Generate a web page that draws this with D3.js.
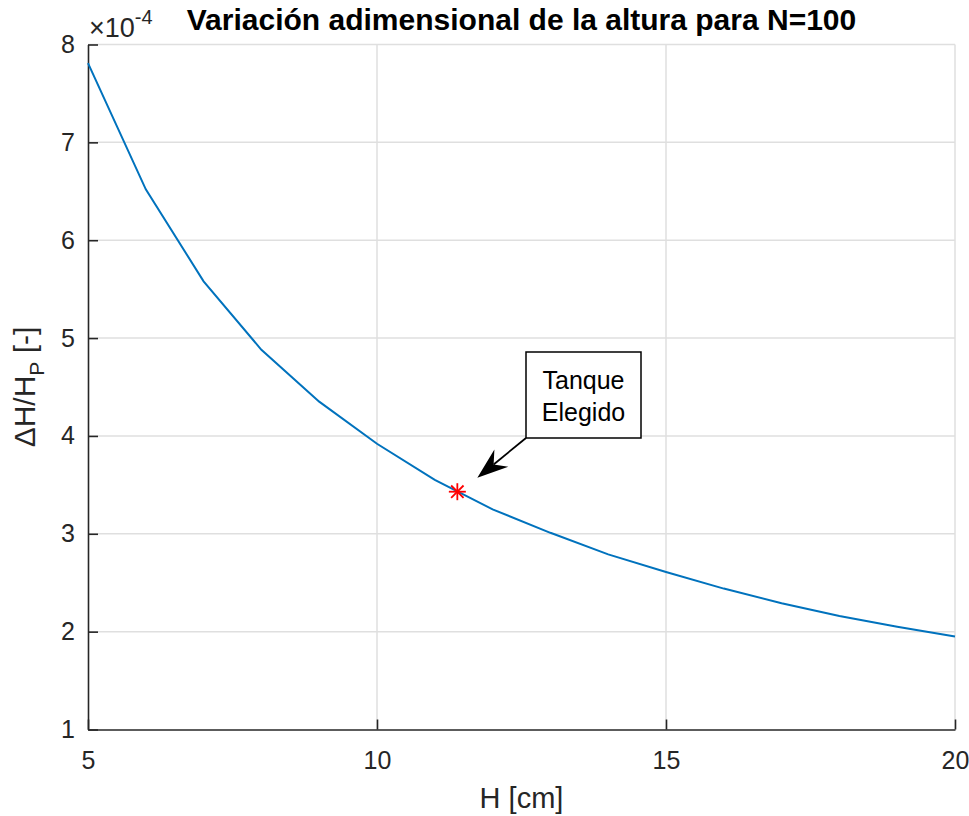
<!DOCTYPE html>
<html>
<head>
<meta charset="utf-8">
<script src="https://cdn.jsdelivr.net/npm/d3@7"></script>
<style>
  html, body { margin: 0; padding: 0; background: #fff; }
  svg text { font-family: "Liberation Sans", Arial, Helvetica, sans-serif; fill: #262626; }
</style>
</head>
<body>
<svg id="chart" width="969" height="816"></svg>
<script>
// Tank height H [cm] and the dimensionless height variation ΔH/H_P (×10^-4)
const heightsCm = [5, 6, 7, 8, 9, 10, 11, 12, 13, 14, 15, 16, 17, 18, 19, 20];
const deltaRatio = [7.81, 6.52, 5.58, 4.88, 4.35, 3.92, 3.55, 3.25, 3.01, 2.79, 2.61, 2.44, 2.29, 2.16, 2.05, 1.95];

// Selected tank
const chosenH = [11.39];
const chosenRatio = [3.43];

const xTicks = [5, 10, 15, 20];
const yTicks = [1, 2, 3, 4, 5, 6, 7, 8];

const svg = d3.select("#chart");
const margin = { left: 88, right: 14, top: 44.5, bottom: 86.5 };
const W = 969, H = 816;

const x = d3.scaleLinear().domain([5, 20]).range([margin.left, W - margin.right]);
const y = d3.scaleLinear().domain([1, 8]).range([H - margin.bottom, margin.top]);

const axisColor = "#262626";
const gridColor = "#dfdfdf";

// grid
const grid = svg.append("g");
grid.selectAll("line.gx").data(xTicks.slice(1)).join("line")
  .attr("x1", d => x(d)).attr("x2", d => x(d))
  .attr("y1", y(1)).attr("y2", y(8))
  .attr("stroke", gridColor).attr("stroke-width", 1.5);
grid.selectAll("line.gy").data(yTicks.slice(1)).join("line")
  .attr("x1", x(5)).attr("x2", x(20))
  .attr("y1", d => y(d)).attr("y2", d => y(d))
  .attr("stroke", gridColor).attr("stroke-width", 1.5);

// axes (ticks pointing inward)
const xAxis = svg.append("g")
  .attr("transform", `translate(0,${y(1)})`)
  .call(d3.axisBottom(x).tickValues(xTicks).tickFormat(d3.format("d"))
    .tickSizeInner(-10).tickSizeOuter(0).tickPadding(22));
const yAxis = svg.append("g")
  .attr("transform", `translate(${x(5)},0)`)
  .call(d3.axisLeft(y).tickValues(yTicks).tickFormat(d3.format("d"))
    .tickSizeInner(-10).tickSizeOuter(0).tickPadding(13));

[xAxis, yAxis].forEach(a => {
  a.attr("font-size", 25).attr("font-family", '"Liberation Sans", Arial, sans-serif');
  a.select(".domain").attr("stroke", axisColor).attr("stroke-width", 1.6);
  a.selectAll(".tick line").attr("stroke", axisColor).attr("stroke-width", 1.6);
  a.selectAll(".tick text").attr("fill", axisColor);
});

// exponent marker
const expo = svg.append("text").attr("x", 89).attr("y", 37).attr("font-size", 27);
expo.append("tspan").text("×10");
expo.append("tspan").attr("dy", -13).attr("font-size", 20).text("-4");

// curve
const line = d3.line().x((d, i) => x(heightsCm[i])).y(d => y(d));
svg.append("path")
  .datum(deltaRatio)
  .attr("d", line)
  .attr("fill", "none")
  .attr("stroke", "#0072BD")
  .attr("stroke-width", 2);

// selected point, asterisk marker
const star = svg.append("g")
  .attr("transform", `translate(${x(chosenH[0])},${y(chosenRatio[0])})`)
  .attr("stroke", "#ff0000").attr("stroke-width", 1.8);
const r = 8.5, rd = 6.2;
star.append("line").attr("x1", -r).attr("x2", r).attr("y1", 0).attr("y2", 0);
star.append("line").attr("x1", 0).attr("x2", 0).attr("y1", -r).attr("y2", r);
star.append("line").attr("x1", -rd).attr("x2", rd).attr("y1", -rd).attr("y2", rd);
star.append("line").attr("x1", -rd).attr("x2", rd).attr("y1", rd).attr("y2", -rd);

// annotation box
const box = { x: 526, y: 352, w: 115, h: 86 };
svg.append("rect")
  .attr("x", box.x).attr("y", box.y).attr("width", box.w).attr("height", box.h)
  .attr("fill", "#fff").attr("stroke", "#000").attr("stroke-width", 1.5);
const note = svg.append("text").attr("text-anchor", "middle").attr("font-size", 25)
  .style("fill", "#000");
note.append("tspan").attr("x", box.x + box.w / 2).attr("y", box.y + 37).text("Tanque");
note.append("tspan").attr("x", box.x + box.w / 2).attr("y", box.y + 69).text("Elegido");

// arrow from box corner toward the selected point
const start = [box.x, box.y + box.h];
const tip = [x(chosenH[0]) + 20, y(chosenRatio[0]) - 14];
const dx = tip[0] - start[0], dy = tip[1] - start[1];
const len = Math.hypot(dx, dy);
const ux = dx / len, uy = dy / len, px = -uy, py = ux;
const headLen = 31, notch = 21, halfW = 11;
const wing1 = [tip[0] - headLen * ux + halfW * px, tip[1] - headLen * uy + halfW * py];
const wing2 = [tip[0] - headLen * ux - halfW * px, tip[1] - headLen * uy - halfW * py];
const back = [tip[0] - notch * ux, tip[1] - notch * uy];
svg.append("line")
  .attr("x1", start[0]).attr("y1", start[1]).attr("x2", back[0]).attr("y2", back[1])
  .attr("stroke", "#000").attr("stroke-width", 1.8);
svg.append("path")
  .attr("d", `M${tip}L${wing1}L${back}L${wing2}Z`)
  .attr("fill", "#000");

// title
svg.append("text")
  .attr("x", (x(5) + x(20)) / 2).attr("y", 30)
  .attr("text-anchor", "middle").attr("font-size", 30).attr("font-weight", "bold")
  .style("fill", "#000")
  .text("Variación adimensional de la altura para N=100");

// x label
svg.append("text")
  .attr("x", (x(5) + x(20)) / 2).attr("y", 808)
  .attr("text-anchor", "middle").attr("font-size", 29)
  .text("H [cm]");

// y label
const yl = svg.append("text")
  .attr("transform", `translate(35,${(y(1) + y(8)) / 2}) rotate(-90)`)
  .attr("text-anchor", "middle").attr("font-size", 30);
yl.append("tspan").text("ΔH/H");
yl.append("tspan").attr("dy", 9).attr("font-size", 21).text("P");
yl.append("tspan").attr("dy", -9).text(" [-]");
</script>
</body>
</html>
